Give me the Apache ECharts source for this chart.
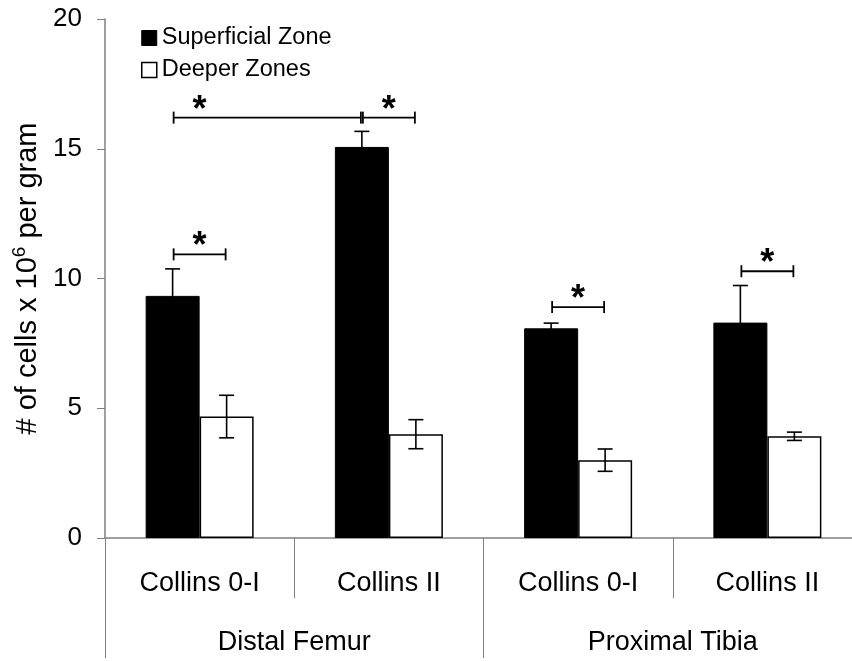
<!DOCTYPE html>
<html>
<head>
<meta charset="utf-8">
<script src="https://cdn.jsdelivr.net/npm/echarts@6/dist/echarts.min.js"></script>
<style>
html,body{margin:0;padding:0;background:#fff;overflow:hidden;}
#chart{width:862px;height:661px;}
</style>
</head>
<body>
<div id="chart"></div>
<script>
// ---- data ----
const categories = ['Collins 0-I', 'Collins II', 'Collins 0-I', 'Collins II'];
const groups = ['Distal Femur', 'Proximal Tibia'];
const seriesNames = ['Superficial Zone', 'Deeper Zones'];
const superficial = [9.33, 15.07, 8.08, 8.3];
const superficialErr = [1.04, 0.6, 0.2, 1.43];
const deeper = [4.68, 4.0, 3.0, 3.92];
const deeperErr = [0.82, 0.56, 0.43, 0.16];
const yTicks = [0, 5, 10, 15, 20];
// significance brackets: [startCategory, startSide(0=superficial,1=deeper), endCategory, endSide, yValue]
const brackets = [
  [0, 0, 0, 1, 10.93],
  [0, 0, 1, 0, 16.2],
  [1, 0, 1, 1, 16.2],
  [2, 0, 2, 1, 8.9],
  [3, 0, 3, 1, 10.28]
];
// significance stars: [category, yValue]
const stars = [[0, 10.93], [0, 16.2], [1, 16.2], [2, 8.9], [3, 10.28]];

// ---- chart ----
const FONT = 'Liberation Sans, Arial, sans-serif';
const BAR_W = 54;
const chart = echarts.init(document.getElementById('chart'), null, {renderer: 'canvas'});

function sideOffset(side) { return side === 0 ? -BAR_W / 2 : BAR_W / 2; }

function errorSeries(means, errs, side) {
  return {
    type: 'custom',
    silent: true,
    z: 5,
    data: means.map((m, i) => [i, m, errs[i]]),
    encode: {x: 0, y: 1},
    renderItem: function (params, api) {
      const i = api.value(0), m = api.value(1), e = api.value(2);
      const x = api.coord([i, m])[0] + sideOffset(side);
      const yt = api.coord([i, m + e])[1];
      const yb = api.coord([i, m - e])[1];
      const cap = 7.5;
      const st = {stroke: '#000', lineWidth: 1.6};
      return {type: 'group', children: [
        {type: 'line', shape: {x1: x, y1: yt, x2: x, y2: yb}, style: st},
        {type: 'line', shape: {x1: x - cap, y1: yt, x2: x + cap, y2: yt}, style: st},
        {type: 'line', shape: {x1: x - cap, y1: yb, x2: x + cap, y2: yb}, style: st}
      ]};
    }
  };
}

const option = {
  animation: false,
  backgroundColor: '#fff',
  grid: {left: 105, right: 0, top: 19, bottom: 123, containLabel: false, outerBoundsMode: 'none'},
  legend: {
    data: [
      {name: seriesNames[0], itemStyle: {color: '#000', borderColor: '#000', borderWidth: 1}},
      {name: seriesNames[1], itemStyle: {color: '#fff', borderColor: '#000', borderWidth: 1.5}}
    ],
    orient: 'vertical',
    left: 136,
    top: 21,
    icon: 'rect',
    itemWidth: 15,
    itemHeight: 15,
    itemGap: 8,
    textStyle: {fontSize: 23.5, color: '#000', fontFamily: FONT}
  },
  xAxis: [
    {
      type: 'category',
      data: categories,
      position: 'bottom',
      axisLine: {show: true, lineStyle: {color: '#808080', width: 1.5}},
      axisTick: {show: true, length: 60, interval: 0, lineStyle: {color: '#808080', width: 1}},
      axisLabel: {fontSize: 27, color: '#000', fontFamily: FONT, margin: 46, verticalAlign: 'middle', interval: 0}
    },
    {
      type: 'category',
      data: groups,
      position: 'bottom',
      axisLine: {show: false},
      axisTick: {show: true, length: 120, interval: 0, lineStyle: {color: '#808080', width: 1}},
      axisLabel: {fontSize: 27, color: '#000', fontFamily: FONT, margin: 105, verticalAlign: 'middle', interval: 0}
    }
  ],
  yAxis: {
    type: 'value',
    min: yTicks[0],
    max: yTicks[yTicks.length - 1],
    interval: 5,
    axisLine: {show: true, lineStyle: {color: '#808080', width: 1.5}},
    axisTick: {show: true, length: 8, lineStyle: {color: '#808080', width: 1}},
    splitLine: {show: false},
    axisLabel: {fontSize: 26, color: '#000', fontFamily: FONT, margin: 23},
    name: '{a|# of cells x 10}{s|6}{a| per gram}',
    nameLocation: 'middle',
    nameRotate: 90,
    nameGap: 52,
    nameTextStyle: {
      fontFamily: FONT,
      color: '#000',
      rich: {
        a: {fontSize: 29, fontFamily: FONT, color: '#000', lineHeight: 34},
        s: {fontSize: 19, fontFamily: FONT, color: '#000', verticalAlign: 'top', lineHeight: 34}
      }
    }
  },
  series: [
    {
      name: seriesNames[0], type: 'bar', data: superficial, barWidth: BAR_W, barGap: '0%',
      itemStyle: {color: '#000', borderColor: '#000', borderWidth: 1}
    },
    {
      name: seriesNames[1], type: 'bar', data: deeper, barWidth: BAR_W, barGap: '0%',
      itemStyle: {color: '#fff', borderColor: '#000', borderWidth: 1.5}
    },
    errorSeries(superficial, superficialErr, 0),
    errorSeries(deeper, deeperErr, 1),
    {
      type: 'custom',
      silent: true,
      z: 6,
      data: brackets,
      encode: {x: 0, y: 4},
      renderItem: function (params, api) {
        const c1 = api.value(0), s1 = api.value(1), c2 = api.value(2), s2 = api.value(3), v = api.value(4);
        const x1 = api.coord([c1, v])[0] + sideOffset(s1) + 1;
        const x2 = api.coord([c2, v])[0] + sideOffset(s2) - 1;
        const y = api.coord([c1, v])[1];
        const h = 6;
        const st = {stroke: '#000', lineWidth: 1.8};
        return {type: 'group', children: [
          {type: 'line', shape: {x1: x1, y1: y, x2: x2, y2: y}, style: st},
          {type: 'line', shape: {x1: x1, y1: y - h, x2: x1, y2: y + h}, style: st},
          {type: 'line', shape: {x1: x2, y1: y - h, x2: x2, y2: y + h}, style: st}
        ]};
      }
    },
    {
      type: 'custom',
      silent: true,
      z: 6,
      data: stars,
      encode: {x: 0, y: 1},
      renderItem: function (params, api) {
        const p = api.coord([api.value(0), api.value(1)]);
        return {type: 'text', x: p[0], y: p[1] + 11, style: {
          text: '*', fill: '#000', font: 'bold 36px ' + FONT, align: 'center', verticalAlign: 'bottom'
        }};
      }
    }
  ]
};
chart.setOption(option);
</script>
</body>
</html>
